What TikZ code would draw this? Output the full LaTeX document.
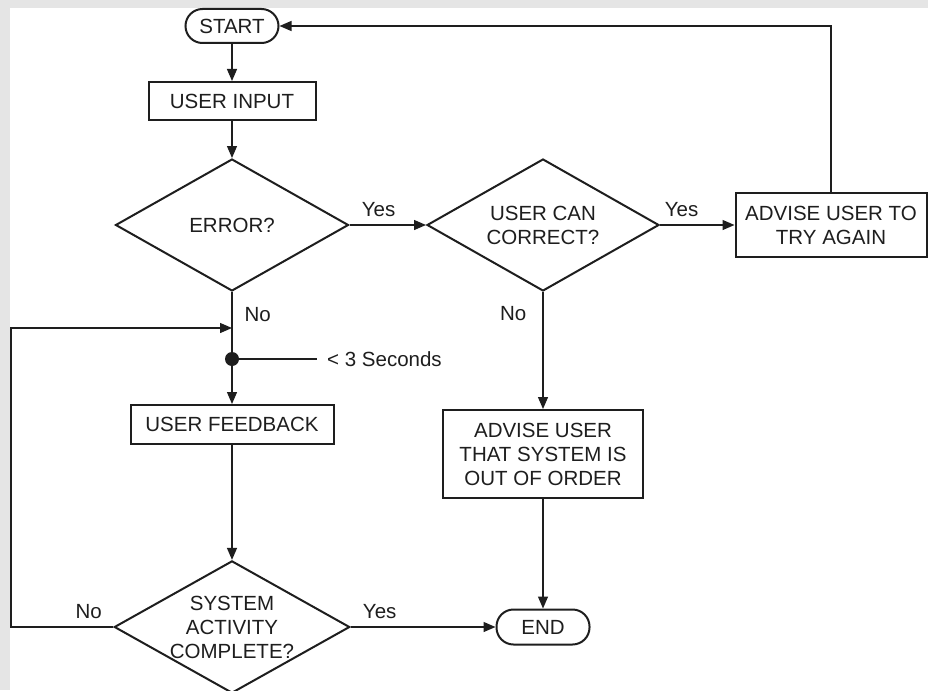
\documentclass[tikz,border=0pt]{standalone}
\usepackage{fontspec}
\setmainfont{Liberation Sans}
\usetikzlibrary{shapes.geometric,arrows.meta}
\definecolor{bggray}{RGB}{229,229,229}
\definecolor{ink}{RGB}{30,30,30}
\begin{document}
\begin{tikzpicture}[x=1pt,y=-1pt,
  every node/.style={font=\fontsize{20.5}{24}\selectfont, text=ink},
  box/.style={draw=ink, line width=2pt, rectangle, inner sep=0pt, align=center},
  term/.style={draw=ink, line width=2pt, rectangle, inner sep=0pt},
  dec/.style={draw=ink, line width=2pt, diamond, aspect=1.78, inner sep=0pt, align=center},
  conn/.style={draw=ink, line width=1.3pt},
  arr/.style={conn, -{Triangle[length=12pt,width=10pt]}},
  lbl/.style={inner sep=0pt}
]
\useasboundingbox (0,0) rectangle (928,690);
\fill[bggray] (0,0) rectangle (928,690);
\fill[white] (10,8) rectangle (928,690);

\node[term, rounded corners=17pt, minimum width=93pt, minimum height=34pt] (start) at (232,26) {START};
\node[box, minimum width=167pt, minimum height=38pt] (input) at (232,101) {USER INPUT};
\node[dec, minimum width=233pt, minimum height=132pt] (error) at (232,225) {ERROR?};
\node[dec, minimum width=232pt, minimum height=132pt] (canc) at (543,225) {USER CAN\\CORRECT?};
\node[box, minimum width=191pt, minimum height=64pt] (adv1) at (831,225) {ADVISE USER TO\\TRY AGAIN};
\node[circle, fill=ink, minimum size=14pt, inner sep=0pt] (dot) at (232,359) {};
\node[lbl, inner xsep=10pt, anchor=west] (secs) at (317,359) {< 3 Seconds};
\node[box, minimum width=203pt, minimum height=39pt] (fb) at (232,424.5) {USER FEEDBACK};
\node[box, minimum width=200pt, minimum height=88pt] (adv2) at (543,454) {ADVISE USER\\THAT SYSTEM IS\\OUT OF ORDER};
\node[dec, minimum width=232pt, minimum height=130pt] (sys) at (232,627) {SYSTEM\\ACTIVITY\\COMPLETE?};
\node[term, rounded corners=17pt, minimum width=93pt, minimum height=35pt] (end) at (543,627) {END};
\coordinate (join) at (232,328);
\coordinate (loopc) at (11,328);

\draw[arr] (start.south) -- (input.north);
\draw[arr] (input.south) -- (error.north);
\draw[arr] (error.east) -- node[lbl, pos=0.38, above=8pt] {Yes} (canc.west);
\draw[arr] (canc.east) -- node[lbl, pos=0.29, above=8pt] {Yes} (adv1.west);
\draw[arr] (adv1.north) |- (start.east);
\draw[arr] (canc.south) -- node[lbl, pos=0.18, left=16pt] {No} (adv2.north);
\draw[conn] (error.south) -- node[lbl, pos=0.37, right=12pt] {No} (dot);
\draw[arr] (dot) -- (fb.north);
\draw[conn] (dot) -- (secs.west);
\draw[arr] (fb.south) -- (sys.north);
\draw[arr] (adv2.south) -- (end.north);
\draw[arr] (sys.east) -- node[lbl, pos=0.2, above=8pt] {Yes} (end.west);
\draw[arr] (sys.west) -| node[lbl, pos=0.12, above=8pt] {No} (loopc) -- (join);
\end{tikzpicture}
\end{document}
